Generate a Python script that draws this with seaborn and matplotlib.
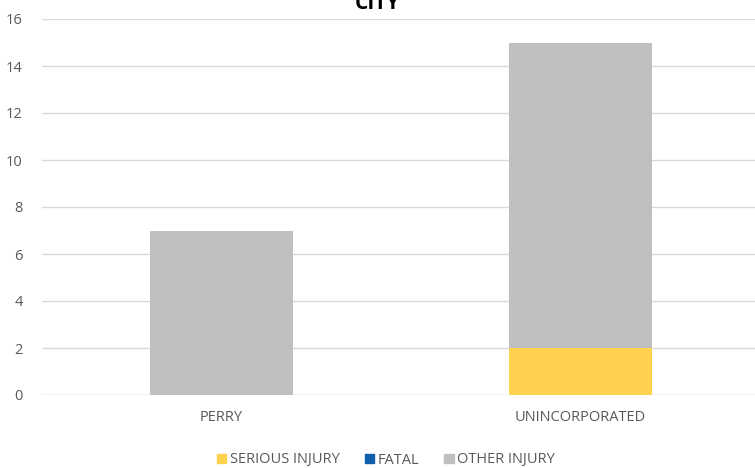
import matplotlib
matplotlib.use("Agg")
import matplotlib.pyplot as plt
import seaborn as sns
import numpy as np
import pandas as pd
from matplotlib.patches import Patch

categories = ["PERRY", "UNINCORPORATED"]
serious_injury = [0, 2]
fatal = [0, 0]
other_injury = [7, 13]
yticks = [0, 2, 4, 6, 8, 10, 12, 14, 16]

sns.set_theme(style="white")
plt.rcParams['font.family'] = ['Open Sans', 'DejaVu Sans']

fig = plt.figure(figsize=(7.55, 4.68), dpi=100)
ax = fig.add_axes([42/755, 1 - 395/468, (760-42)/755, (395-19)/468])

c_serious = "#FFD14F"
c_fatal = "#0F5FAA"
c_other = "#BFBFBF"

df = pd.DataFrame({"cat": categories, "serious": serious_injury,
                   "fatal": fatal, "other": other_injury})
s = np.array(serious_injury)
f = np.array(fatal)
sns.barplot(data=df, x="cat", y="serious", color=c_serious, width=0.4, ax=ax,
            saturation=1, linewidth=0, zorder=3)
ax.bar(categories, fatal, bottom=s, width=0.4, color=c_fatal, linewidth=0, zorder=3)
ax.bar(categories, other_injury, bottom=s + f, width=0.4, color=c_other, linewidth=0, zorder=3)

ax.set_ylim(0, 16)
ax.set_xlim(-0.5, 1.5)
ax.set_yticks(yticks)
ax.yaxis.grid(True, color="#D9D9D9", linewidth=1, zorder=0)
ax.set_axisbelow(True)
for sp in ax.spines.values():
    sp.set_visible(False)
ax.axhline(0, color="#D9D9D9", linewidth=1, zorder=1)
ax.set_xlabel("")
ax.set_ylabel("")
ax.tick_params(axis="both", length=0, colors="#595959", labelsize=10.5)
ax.tick_params(axis="x", pad=11)
ax.tick_params(axis="y", pad=14)

fig.text(0.5, 1.014, "CITY", ha="center", va="top", fontsize=15,
         fontweight="bold", color="#000000")

handles = [Patch(color=c_serious, label="SERIOUS INJURY"),
           Patch(color=c_fatal, label="FATAL"),
           Patch(color=c_other, label="OTHER INJURY")]
fig.legend(handles=handles, loc="center", bbox_to_anchor=(386/755, 1 - 460/468),
           ncol=3, frameon=False, fontsize=10.5, handlelength=0.65, handleheight=0.65,
           handletextpad=0.25, columnspacing=1.7, labelcolor="#595959")

fig.savefig("out.png", dpi=100)
